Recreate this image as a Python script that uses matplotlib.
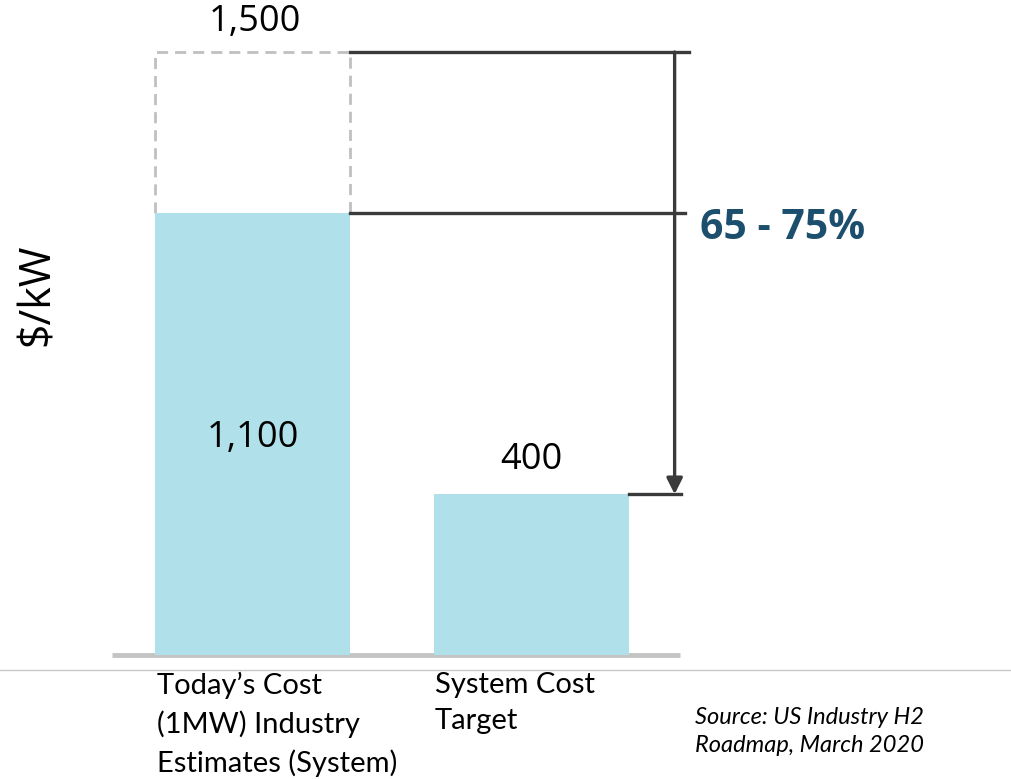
import matplotlib.pyplot as plt
from matplotlib.lines import Line2D

# data
categories = ["Today\u2019s Cost\n(1MW) Industry\nEstimates (System)", "System Cost\nTarget"]
values = [1100, 400]
upper_estimate = 1500
reduction_label = "65 - 75%"
source_text = "Source: US Industry H2\nRoadmap, March 2020"

bar_color = "#b0e0ea"
line_color = "#3a3a3a"

fig = plt.figure(figsize=(10.12, 7.79), dpi=100)
# axes bottom sits on the baseline of the bars
ax = fig.add_axes([0, 124 / 779, 1, 655 / 779])
px_per_unit = 279.0
ax.set_xlim(-252.5 / px_per_unit, (1012 - 252.5) / px_per_unit)
ax.set_ylim(0, 655 / 0.402)
ax.axis("off")

x = [0, 1]
w = 0.70
ax.bar(x, values, width=w, color=bar_color, zorder=2)

# baseline
ax.plot([-0.504, 1.532], [0, 0], color="#c4c4c4", lw=3.5, zorder=1,
        solid_capstyle="butt", clip_on=False)

# dashed outline for upper estimate
l, r = x[0] - w / 2, x[0] + w / 2
ax.plot([l, l, r, r], [values[0], upper_estimate, upper_estimate, values[0]],
        color="#c0c0c0", lw=2, ls=(0, (4, 2.5)), zorder=1)

# black bracket lines
ax.plot([r, 1.565], [upper_estimate, upper_estimate], color=line_color, lw=2.4)
ax.plot([r, 1.55], [values[0], values[0]], color=line_color, lw=2.4)
ax.plot([x[1] + w / 2, 1.535], [values[1], values[1]], color=line_color, lw=2.4)
ax.annotate("", xy=(1.513, values[1]), xytext=(1.513, upper_estimate),
            arrowprops=dict(arrowstyle="-|>", color=line_color, lw=2.4,
                            mutation_scale=24, shrinkA=0, shrinkB=0))

# value labels
ax.text(x[0] + 0.01, upper_estimate + 30, "{:,}".format(upper_estimate), ha="center",
        va="bottom", fontsize=26, family="Open Sans")
ax.text(x[0], 540, "{:,}".format(values[0]), ha="center", va="center",
        fontsize=26, family="Open Sans")
ax.text(x[1], values[1] + 40, "{:,}".format(values[1]), ha="center", va="bottom",
        fontsize=26, family="Open Sans")

ax.text(1.605, values[0] - 40, reduction_label, ha="left", va="center", fontsize=29.5,
        fontweight="bold", color="#1c4f6e", family="Open Sans")

# y label
fig.text(38 / 1012, 1 - 295 / 779, "$/kW", rotation=90, ha="center", va="center",
         fontsize=31, family="Open Sans")

# thin separator line across the figure
fig.add_artist(Line2D([0, 1], [1 - 670 / 779, 1 - 670 / 779], color="#c8c8c8", lw=1))

# category labels
fig.text(157 / 1012, 1 - 672 / 779, categories[0], ha="left", va="top", fontsize=21,
         family="Lato", linespacing=1.5)
fig.text(435 / 1012, 1 - 672 / 779, categories[1], ha="left", va="top", fontsize=21,
         family="Lato", linespacing=1.5)

fig.text(695 / 1012, 1 - 707 / 779, source_text, ha="left", va="top", fontsize=17,
         family="Lato", style="italic", linespacing=1.4)

fig.savefig("out.png", dpi=100)
